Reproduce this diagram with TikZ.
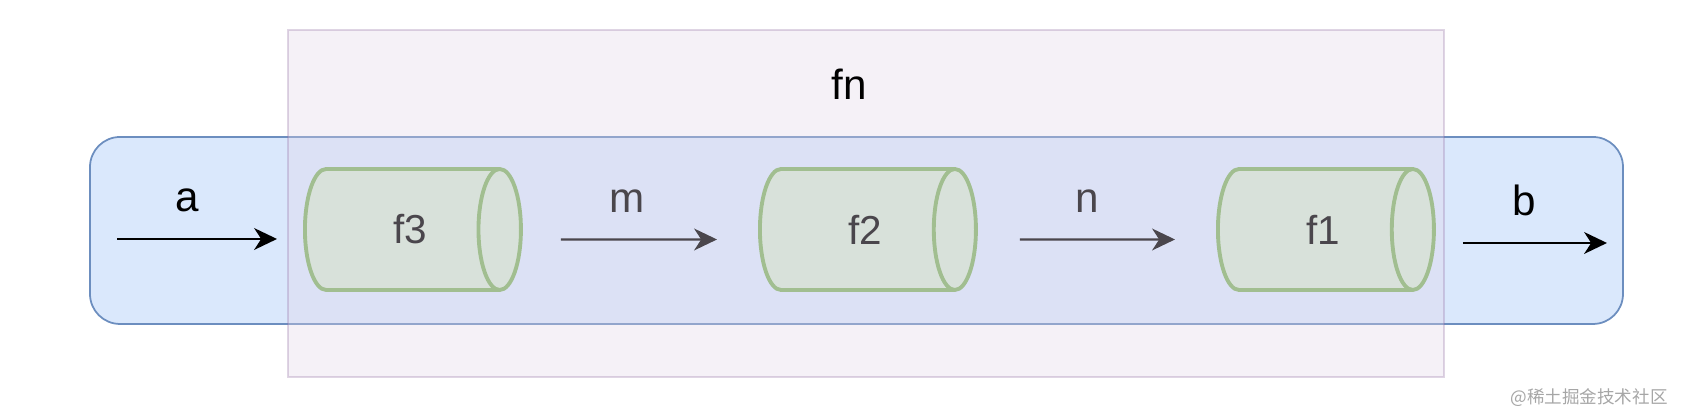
\documentclass[tikz,border=0pt]{standalone}
\usepackage{fontspec}
\setmainfont{Liberation Sans}
\newfontfamily\cjkfont{Noto Sans CJK SC}
\usetikzlibrary{shapes.geometric,arrows.meta,positioning}
\definecolor{boxblue}{HTML}{DAE8FC}
\definecolor{lineblue}{HTML}{6C8EBF}
\definecolor{boxpink}{HTML}{E1D5E7}
\definecolor{linepink}{HTML}{9673A6}
\definecolor{fillgreen}{HTML}{D5E8D4}
\definecolor{linegreen}{HTML}{82B366}

\begin{document}
\begin{tikzpicture}[
			outer node/.style={rectangle, draw=lineblue, line width=0.5pt, fill=boxblue, rounded corners=0.3cm},
			fn node/.style={rectangle, draw=linepink, draw opacity=0.3, fill=boxpink, fill opacity=0.33, line width=0.6pt},
			func node/.style={cylinder, anchor=west, draw=linegreen, line width=1.1pt, fill=fillgreen, aspect=0.8, minimum height=2.16cm, minimum width=1.21cm, text=black, font=\fontsize{11.5}{13}\selectfont},
			label node/.style={anchor=base, yshift=0.27cm, xshift=-0.1cm, font=\fontsize{12}{14}\selectfont}]
			\useasboundingbox (0,0) rectangle (16.96,4.14);
			
			\node[outer node, minimum width=15.33cm, minimum height=1.87cm] (1) at (8.565,1.835) {};
			\node[func node] (2) at (3.03,1.845) {\hspace*{0.3cm}f3};
			\node[func node] (3) at (7.58,1.845) {\hspace*{0.3cm}f2};
			\node[func node] (4) at (12.16,1.845) {\hspace*{0.3cm}f1};
			\coordinate (5) at (1.17,1.75);
			\coordinate (6) at (16.07,1.71);
			
			\path[line width=0.65pt, -{Stealth[length=6.5pt,width=6.2pt,inset=2pt]}]
			(5) edge [shorten >=0.26cm] node[label node, pos=0.43] {a} (5 -| 2.west)
			([yshift=-0.1cm]2.east) edge [shorten <=0.38cm, shorten >=0.41cm] node[label node, pos=0.485] {m} ([yshift=-0.1cm]3.west)
			([yshift=-0.1cm]3.east) edge [shorten <=0.42cm, shorten >=0.41cm] node[label node] {n} ([yshift=-0.1cm]4.west)
			(6 -| 4.east) edge [shorten <=0.27cm] node[label node, pos=0.575] {b} (6);
			
			\node[fn node, minimum width=11.56cm, minimum height=3.47cm] (7) at (8.66,2.105) {};
			\node[font=\fontsize{12}{14}\selectfont] (8) at (8.49,3.30) {fn};
			\node[text=gray!70, font=\cjkfont\fontsize{5}{6}\selectfont] (9) at (15.89,0.16) {@稀土掘金技术社区};
		\end{tikzpicture}
\end{document}
